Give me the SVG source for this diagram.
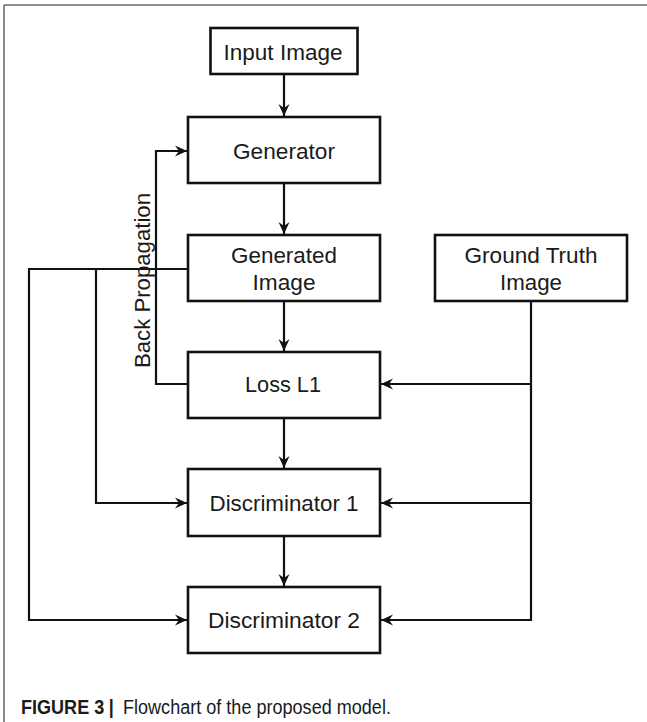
<svg xmlns="http://www.w3.org/2000/svg" width="647" height="722" viewBox="0 0 647 722">
<style>
.box{fill:#fff;stroke:#111;stroke-width:2.6}
.lbl{font-family:"Liberation Sans",Arial,sans-serif;font-size:22.5px;fill:#1a1a1a;text-anchor:middle}
.con{fill:none;stroke:#111;stroke-width:2.2}
.cap{font-family:"Liberation Sans",Arial,sans-serif;font-size:21px;fill:#1a1a1a}
</style>
<defs>
<marker id="ah" markerUnits="userSpaceOnUse" markerWidth="16" markerHeight="14" viewBox="-13 -7 14 14" refX="0" refY="0" orient="auto">
<path d="M0,0 L-12,-5.5 L-8,0 L-12,5.5 Z" fill="#111"/>
</marker>
</defs>
<rect width="647" height="722" fill="#fff"/>
<g id="frame">
<line x1="4" y1="5" x2="647" y2="5" stroke="#6a6a6a" stroke-width="1.6"/>
<line x1="4" y1="5" x2="4" y2="722" stroke="#6a6a6a" stroke-width="1.6"/>
</g>
<g id="connectors">
<line class="con" x1="284" y1="74" x2="284" y2="116" marker-end="url(#ah)"/>
<line class="con" x1="284" y1="183" x2="284" y2="234" marker-end="url(#ah)"/>
<line class="con" x1="284" y1="301" x2="284" y2="351" marker-end="url(#ah)"/>
<line class="con" x1="284" y1="418" x2="284" y2="468" marker-end="url(#ah)"/>
<line class="con" x1="284" y1="536" x2="284" y2="586" marker-end="url(#ah)"/>
<path class="con" d="M188,384 H156 V151 H187" marker-end="url(#ah)"/>
<path class="con" d="M188,269 H96 V503 H187" marker-end="url(#ah)"/>
<path class="con" d="M96,269 H29 V620 H187" marker-end="url(#ah)"/>
<path class="con" d="M531,301 V384 H381" marker-end="url(#ah)"/>
<path class="con" d="M531,384 V503 H381" marker-end="url(#ah)"/>
<path class="con" d="M531,503 V620 H381" marker-end="url(#ah)"/>
<text class="lbl" transform="translate(150,280.5) rotate(-90)" x="0" y="0" textLength="175" lengthAdjust="spacingAndGlyphs">Back Propagation</text>
</g>
<g id="input-image">
<rect class="box" x="210.5" y="28" width="147" height="46"/>
<text class="lbl" x="283" y="60" textLength="119" lengthAdjust="spacingAndGlyphs">Input Image</text>
</g>
<g id="generator">
<rect class="box" x="188" y="117" width="192" height="66"/>
<text class="lbl" x="284" y="159" textLength="102" lengthAdjust="spacingAndGlyphs">Generator</text>
</g>
<g id="generated-image">
<rect class="box" x="188" y="235" width="192" height="66"/>
<text class="lbl" x="284" y="263" textLength="106" lengthAdjust="spacingAndGlyphs">Generated</text>
<text class="lbl" x="284" y="290" textLength="63" lengthAdjust="spacingAndGlyphs">Image</text>
</g>
<g id="ground-truth-image">
<rect class="box" x="435" y="235" width="192" height="66"/>
<text class="lbl" x="531" y="263" textLength="133" lengthAdjust="spacingAndGlyphs">Ground Truth</text>
<text class="lbl" x="531" y="290" textLength="62" lengthAdjust="spacingAndGlyphs">Image</text>
</g>
<g id="loss-l1">
<rect class="box" x="188" y="352" width="192" height="66"/>
<text class="lbl" x="283" y="392" textLength="76" lengthAdjust="spacingAndGlyphs">Loss L1</text>
</g>
<g id="discriminator-1">
<rect class="box" x="188" y="469" width="192" height="67"/>
<text class="lbl" x="284" y="511" textLength="149" lengthAdjust="spacingAndGlyphs">Discriminator 1</text>
</g>
<g id="discriminator-2">
<rect class="box" x="188" y="587" width="192" height="66"/>
<text class="lbl" x="284" y="628" textLength="152" lengthAdjust="spacingAndGlyphs">Discriminator 2</text>
</g>
<g id="caption">
<text class="cap" transform="translate(21,714) scale(0.86,1)"><tspan x="0" y="0" font-weight="bold">FIGURE 3</tspan><tspan x="102" y="0" font-weight="bold">|</tspan><tspan x="118.6" y="0">Flowchart of the proposed model.</tspan></text>
</g>
</svg>
